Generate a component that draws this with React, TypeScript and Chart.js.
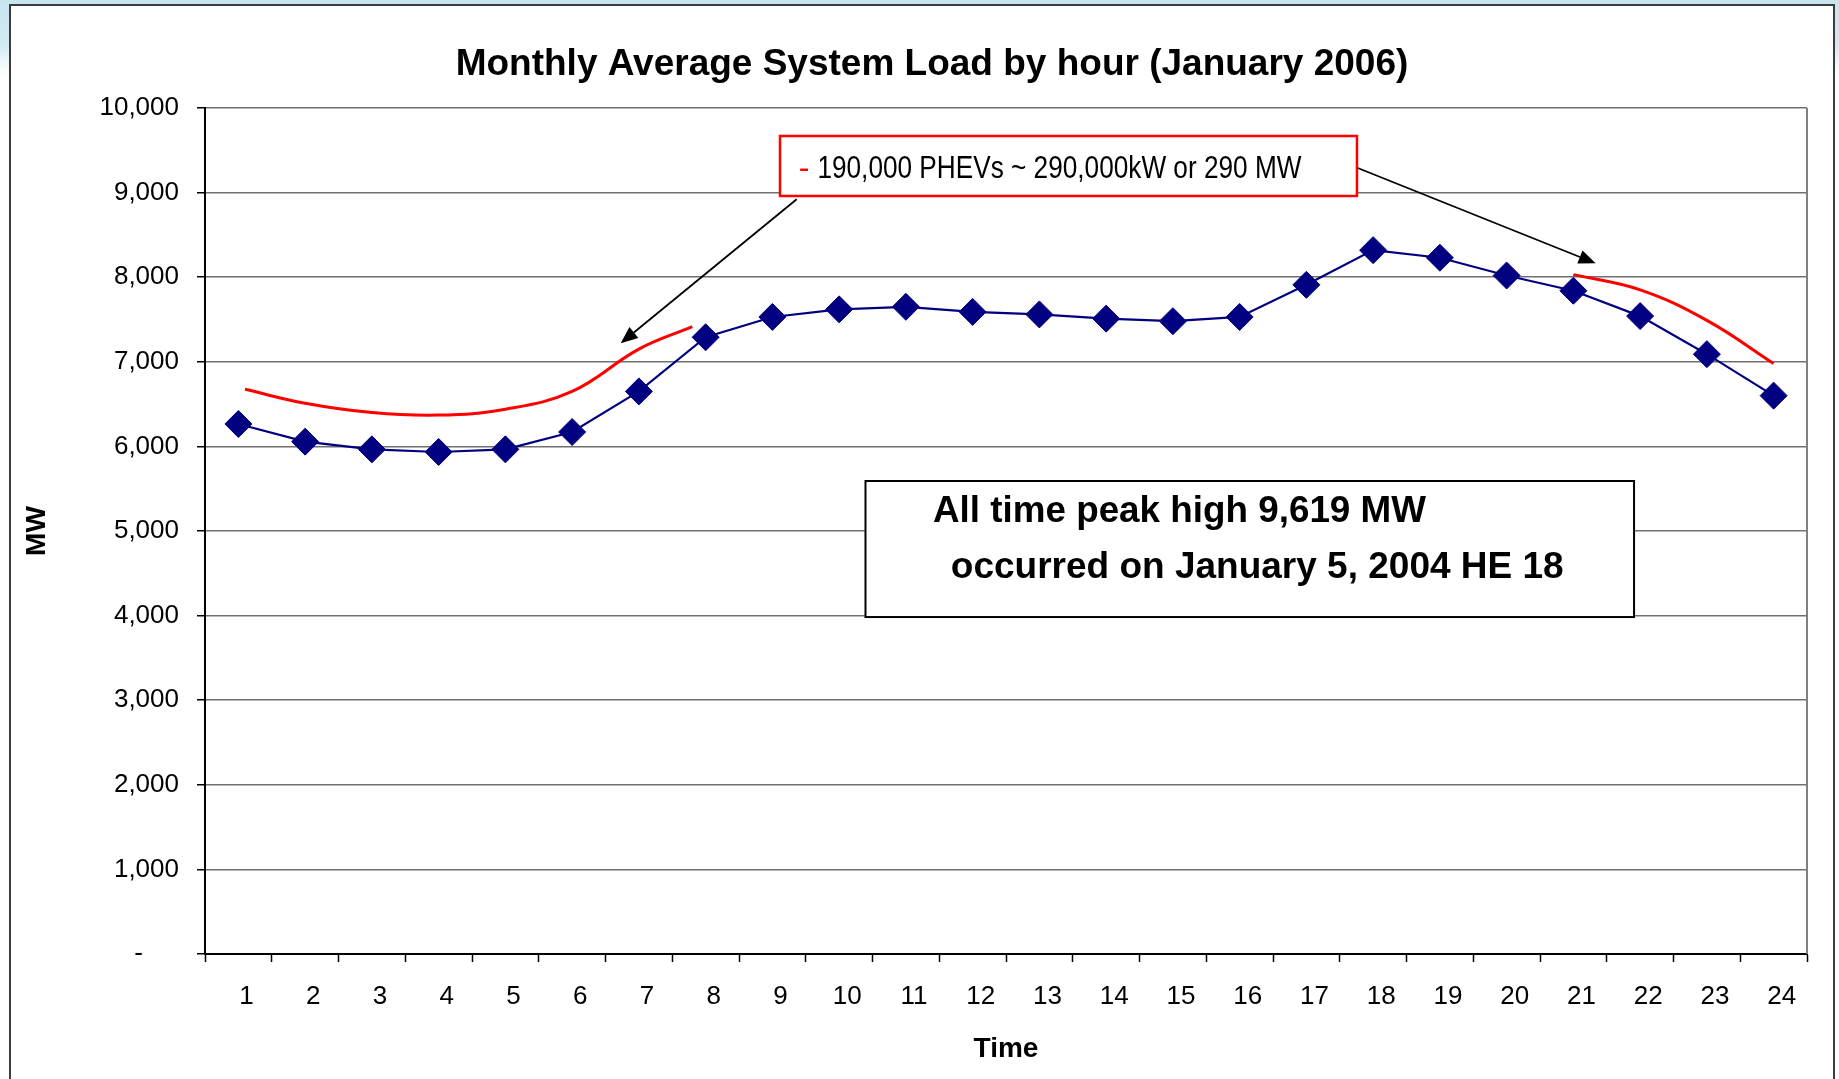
import React, { useEffect, useRef } from 'react';
import { Chart, registerables } from 'chart.js';

Chart.register(...registerables);

// ---------- data ----------
const hours = ['1','2','3','4','5','6','7','8','9','10','11','12','13','14','15','16','17','18','19','20','21','22','23','24'];
const avgLoadMW = [6265, 6056, 5965, 5934, 5965, 6170, 6650, 7290, 7530, 7620, 7650, 7590, 7560, 7510, 7480, 7530, 7910, 8320, 8230, 8020, 7840, 7540, 7090, 6600];

const phevMorningHours = [1.1, 2, 3, 4, 5, 6, 7, 7.8];
const phevMorningMW = [6675, 6510, 6400, 6370, 6440, 6650, 7150, 7415];
const phevEveningHours = [21, 22, 23, 24];
const phevEveningMW = [8030, 7850, 7490, 6980];

const yTickValues = [0, 1000, 2000, 3000, 4000, 5000, 6000, 7000, 8000, 9000, 10000];
const yTickLabels = ['-', '1,000', '2,000', '3,000', '4,000', '5,000', '6,000', '7,000', '8,000', '9,000', '10,000'];

const chartTitle = 'Monthly Average System Load by hour (January 2006)';
const xTitle = 'Time';
const yTitle = 'MW';
const noteDash = '-';
const noteText = '190,000 PHEVs ~ 290,000kW or 290 MW';
const peakLines = ['All time peak high 9,619 MW', 'occurred on January 5, 2004 HE 18'];

// ---------- annotation placement (in hour / MW units) ----------
const NOTE_BOX = { x1: 9.114, x2: 17.758, y1: 9669, y2: 8960 };
const NOTE_DASH_AT = { x: 9.474, y: 9169 };
const NOTE_TEXT_AT = { x: 9.675, y: 9169, maxW: 484 };
const PEAK_BOX = { x1: 10.395, x2: 21.909, y1: 5591, y2: 3983 };
const PEAK_LINE_AT = [
  { x: 11.406, y: 5110, maxW: 493 },
  { x: 11.673, y: 4444, maxW: 615 },
];
const ARROWS = [
  { from: [9.364, 8921], to: [6.728, 7219] },
  { from: [17.76, 9294], to: [21.334, 8164] },
];

const FONT = '"Liberation Sans", Arial, Helvetica, sans-serif';

function drawArrow(ctx: CanvasRenderingContext2D, x1: number, y1: number, x2: number, y2: number) {
  const ang = Math.atan2(y2 - y1, x2 - x1);
  const len = 17;
  const hw = 7;
  const bx = x2 - len * Math.cos(ang);
  const by = y2 - len * Math.sin(ang);
  ctx.beginPath();
  ctx.moveTo(x1, y1);
  ctx.lineTo(bx, by);
  ctx.stroke();
  ctx.beginPath();
  ctx.moveTo(x2, y2);
  ctx.lineTo(bx + hw * Math.sin(ang), by - hw * Math.cos(ang));
  ctx.lineTo(bx - hw * Math.sin(ang), by + hw * Math.cos(ang));
  ctx.closePath();
  ctx.fill();
}

const overlayPlugin = {
  id: 'overlay',
  beforeDatasetsDraw(chart: any) {
    const { ctx, chartArea } = chart;
    ctx.save();
    ctx.strokeStyle = '#808080';
    ctx.lineWidth = 2;
    ctx.beginPath();
    ctx.moveTo(chartArea.right, chartArea.top);
    ctx.lineTo(chartArea.right, chartArea.bottom);
    ctx.stroke();
    ctx.restore();
  },
  afterDraw(chart: any) {
    const { ctx } = chart;
    const xs = chart.scales.x2;
    const ys = chart.scales.y;
    const px = (h: number) => xs.getPixelForValue(h);
    const py = (v: number) => ys.getPixelForValue(v);
    ctx.save();

    // title
    ctx.fillStyle = '#000';
    ctx.font = 'bold 37px ' + FONT;
    ctx.textAlign = 'center';
    ctx.textBaseline = 'alphabetic';
    ctx.fillText(chartTitle, 932, 75);

    // arrows
    ctx.strokeStyle = '#000';
    ctx.fillStyle = '#000';
    ctx.lineWidth = 1.8;
    ARROWS.forEach((a) => drawArrow(ctx, px(a.from[0]), py(a.from[1]), px(a.to[0]), py(a.to[1])));

    // red note box
    {
      const x1 = px(NOTE_BOX.x1), x2 = px(NOTE_BOX.x2), y1 = py(NOTE_BOX.y1), y2 = py(NOTE_BOX.y2);
      ctx.fillStyle = '#fff';
      ctx.fillRect(x1, y1, x2 - x1, y2 - y1);
      ctx.strokeStyle = '#ff0000';
      ctx.lineWidth = 2.5;
      ctx.strokeRect(x1, y1, x2 - x1, y2 - y1);
      ctx.textBaseline = 'alphabetic';
      ctx.font = '32px "Liberation Sans Narrow", "Arial Narrow", ' + FONT;
      ctx.textAlign = 'center';
      ctx.fillStyle = '#ff0000';
      ctx.fillText(noteDash, px(NOTE_DASH_AT.x), py(NOTE_DASH_AT.y));
      ctx.textAlign = 'left';
      ctx.fillStyle = '#000';
      ctx.fillText(noteText, px(NOTE_TEXT_AT.x), py(NOTE_TEXT_AT.y), NOTE_TEXT_AT.maxW);
    }

    // peak box
    {
      const x1 = px(PEAK_BOX.x1), x2 = px(PEAK_BOX.x2), y1 = py(PEAK_BOX.y1), y2 = py(PEAK_BOX.y2);
      ctx.fillStyle = '#fff';
      ctx.fillRect(x1, y1, x2 - x1, y2 - y1);
      ctx.strokeStyle = '#000';
      ctx.lineWidth = 2;
      ctx.strokeRect(x1, y1, x2 - x1, y2 - y1);
      ctx.fillStyle = '#000';
      ctx.font = 'bold 37px ' + FONT;
      ctx.textAlign = 'left';
      ctx.textBaseline = 'alphabetic';
      peakLines.forEach((t, i) => {
        const p = PEAK_LINE_AT[i];
        ctx.fillText(t, px(p.x), py(p.y), p.maxW);
      });
    }
    ctx.restore();
  },
};

export default function App() {
  const canvasRef = useRef<HTMLCanvasElement | null>(null);

  useEffect(() => {
    document.body.style.margin = '0';
    document.body.style.overflow = 'hidden';
    const canvas = canvasRef.current;
    if (!canvas) return;
    Chart.defaults.font.family = FONT;
    Chart.defaults.color = '#000';

    const chart = new Chart(canvas, {
      type: 'line',
      data: {
        labels: hours,
        datasets: [
          {
            label: 'Average load',
            data: avgLoadMW,
            xAxisID: 'x',
            yAxisID: 'y',
            borderColor: '#000080',
            borderWidth: 2.2,
            backgroundColor: '#000080',
            pointStyle: 'rectRot',
            pointRadius: 13.5,
            pointBackgroundColor: '#000080',
            pointBorderColor: '#000080',
            pointBorderWidth: 1,
            tension: 0,
            fill: false,
          },
          {
            label: 'PHEV morning',
            data: phevMorningHours.map((h, i) => ({ x: h, y: phevMorningMW[i] })),
            xAxisID: 'x2',
            yAxisID: 'y',
            borderColor: '#ff0000',
            borderWidth: 3,
            pointRadius: 0,
            tension: 0.4,
            fill: false,
          },
          {
            label: 'PHEV evening',
            data: phevEveningHours.map((h, i) => ({ x: h, y: phevEveningMW[i] })),
            xAxisID: 'x2',
            yAxisID: 'y',
            borderColor: '#ff0000',
            borderWidth: 3,
            pointRadius: 0,
            tension: 0.4,
            fill: false,
          },
        ] as any,
      },
      options: {
        animation: false,
        responsive: false,
        events: [],
        layout: { padding: { left: 10, right: 32, top: 108, bottom: 0 } },
        plugins: {
          legend: { display: false },
          tooltip: { enabled: false },
          title: { display: false },
        },
        scales: {
          x: {
            type: 'category',
            offset: true,
            grid: {
              display: true,
              drawOnChartArea: false,
              drawTicks: true,
              tickLength: 8,
              tickColor: '#000',
              tickWidth: 1.5,
              offset: true,
            },
            border: { display: true, color: '#000', width: 2 },
            ticks: {
              font: { size: 26 },
              color: '#000',
              padding: 19,
              labelOffset: 8,
              maxRotation: 0,
              autoSkip: false,
            },
            title: {
              display: true,
              text: xTitle,
              color: '#000',
              font: { size: 28, weight: 'bold' },
              padding: { top: 0, bottom: 13 },
            },
            afterFit: (s: any) => { s.height = 125; },
          },
          x2: { type: 'linear', display: false, min: 0.5, max: 24.5 },
          y: {
            type: 'linear',
            min: yTickValues[0],
            max: yTickValues[yTickValues.length - 1],
            ticks: {
              stepSize: 1000,
              font: { size: 26 },
              color: '#000',
              padding: 18,
              callback: (v: any) => {
                const i = yTickValues.indexOf(Number(v));
                if (i < 0) return '';
                return i === 0 ? yTickLabels[i] + '     ' : yTickLabels[i];
              },
            },
            grid: {
              color: (c: any) => (c.tick && c.tick.value === 0 ? 'rgba(0,0,0,0)' : '#707070'),
              lineWidth: 1.5,
              drawTicks: true,
              tickLength: 8,
              tickColor: '#000',
              tickWidth: 1.5,
            },
            border: { display: true, color: '#000', width: 2 },
            title: {
              display: true,
              text: yTitle,
              color: '#000',
              font: { size: 28, weight: 'bold' },
              padding: { top: 10, bottom: 0 },
            },
            afterFit: (s: any) => { s.width = 195; },
          },
        },
      } as any,
      plugins: [overlayPlugin],
    });

    return () => chart.destroy();
  }, []);

  return (
    <div
      style={{
        position: 'relative',
        width: 1839,
        height: 1079,
        overflow: 'hidden',
        background: 'linear-gradient(180deg, #c8e5ef 0px, #d2eaf2 45px, #f2f9fb 65px, #ffffff 80px)',
      }}
    >
      <div
        style={{
          position: 'absolute',
          left: 9,
          top: 4,
          width: 1826,
          height: 1100,
          boxSizing: 'border-box',
          border: '2px solid #3c3c3c',
          background: '#ffffff',
        }}
      />
      <canvas
        ref={canvasRef}
        width={1839}
        height={1079}
        style={{ position: 'absolute', left: 0, top: 0, width: 1839, height: 1079 }}
      />
    </div>
  );
}
